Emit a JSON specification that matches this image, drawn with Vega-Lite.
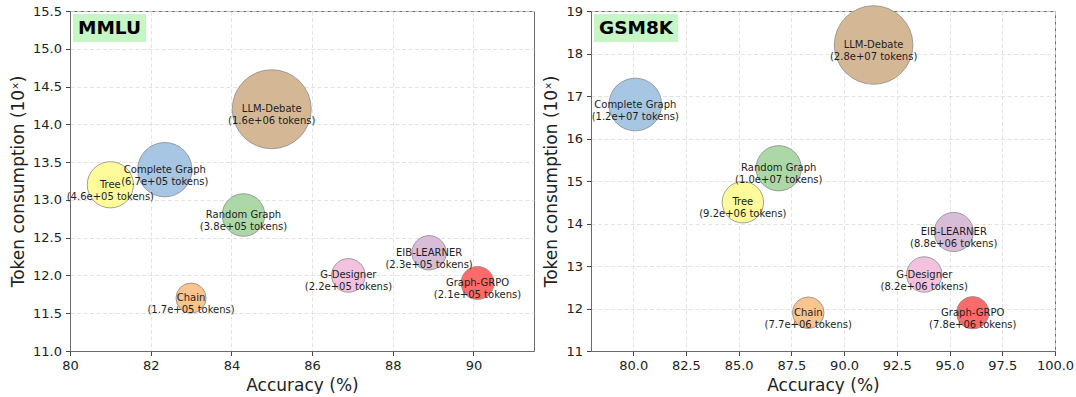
{
  "$schema": "https://vega.github.io/schema/vega-lite/v6.json",
  "padding": {"left": 9, "top": 3, "right": 5, "bottom": 0},
  "background": "white",
  "datasets": {
    "mmlu": [
      {"benchmark": "MMLU", "method": "LLM-Debate", "accuracy": 85.0, "consumption": 14.2, "tokens": 1600000, "tokens_text": "1.6e+06"},
      {"benchmark": "MMLU", "method": "Complete Graph", "accuracy": 82.35, "consumption": 13.4, "tokens": 670000, "tokens_text": "6.7e+05"},
      {"benchmark": "MMLU", "method": "Tree", "accuracy": 81.0, "consumption": 13.2, "tokens": 460000, "tokens_text": "4.6e+05"},
      {"benchmark": "MMLU", "method": "Random Graph", "accuracy": 84.3, "consumption": 12.8, "tokens": 380000, "tokens_text": "3.8e+05"},
      {"benchmark": "MMLU", "method": "EIB-LEARNER", "accuracy": 88.9, "consumption": 12.3, "tokens": 230000, "tokens_text": "2.3e+05"},
      {"benchmark": "MMLU", "method": "G-Designer", "accuracy": 86.9, "consumption": 12.0, "tokens": 220000, "tokens_text": "2.2e+05"},
      {"benchmark": "MMLU", "method": "Graph-GRPO", "accuracy": 90.1, "consumption": 11.9, "tokens": 210000, "tokens_text": "2.1e+05"},
      {"benchmark": "MMLU", "method": "Chain", "accuracy": 83.0, "consumption": 11.7, "tokens": 170000, "tokens_text": "1.7e+05"}
    ],
    "gsm8k": [
      {"benchmark": "GSM8K", "method": "LLM-Debate", "accuracy": 91.4, "consumption": 18.2, "tokens": 28000000, "tokens_text": "2.8e+07"},
      {"benchmark": "GSM8K", "method": "Complete Graph", "accuracy": 80.1, "consumption": 16.8, "tokens": 12000000, "tokens_text": "1.2e+07"},
      {"benchmark": "GSM8K", "method": "Random Graph", "accuracy": 86.9, "consumption": 15.3, "tokens": 10000000, "tokens_text": "1.0e+07"},
      {"benchmark": "GSM8K", "method": "Tree", "accuracy": 85.2, "consumption": 14.5, "tokens": 9200000, "tokens_text": "9.2e+06"},
      {"benchmark": "GSM8K", "method": "EIB-LEARNER", "accuracy": 95.2, "consumption": 13.8, "tokens": 8800000, "tokens_text": "8.8e+06"},
      {"benchmark": "GSM8K", "method": "G-Designer", "accuracy": 93.8, "consumption": 12.8, "tokens": 8200000, "tokens_text": "8.2e+06"},
      {"benchmark": "GSM8K", "method": "Graph-GRPO", "accuracy": 96.1, "consumption": 11.9, "tokens": 7800000, "tokens_text": "7.8e+06"},
      {"benchmark": "GSM8K", "method": "Chain", "accuracy": 88.3, "consumption": 11.9, "tokens": 7700000, "tokens_text": "7.7e+06"}
    ]
  },
  "config": {
    "font": "DejaVu Sans",
    "view": {"stroke": "#6b6b6b", "strokeWidth": 1},
    "axis": {
      "labelFont": "DejaVu Sans",
      "titleFont": "DejaVu Sans",
      "labelFontSize": 13,
      "titleFontSize": 17,
      "titleFontWeight": "normal",
      "labelColor": "#222222",
      "titleColor": "#222222",
      "domainColor": "#6b6b6b",
      "tickColor": "#444444",
      "tickSize": 4.5,
      "labelPadding": 4,
      "titlePadding": 5,
      "labelFlush": false,
      "labelOverlap": false,
      "grid": true,
      "gridColor": "#dcdcdc",
      "gridDash": [4, 2.5],
      "gridWidth": 0.8
    },
    "legend": {
      "orient": "top-left",
      "offset": 3,
      "fillColor": "#c6f5c6",
      "padding": 4.5,
      "labelFontSize": 18.5,
      "labelFontWeight": "bold",
      "labelFont": "DejaVu Sans",
      "labelColor": "#000000",
      "symbolSize": 0.01,
      "symbolOpacity": 0,
      "symbolStrokeWidth": 0,
      "labelOffset": -18,
      "title": null
    }
  },
  "hconcat": [
    {
      "width": 464,
      "height": 340,
      "data": {"name": "mmlu"},
      "transform": [{"calculate": "datum.method + '\\n(' + datum.tokens_text + ' tokens)'", "as": "label"}],
      "encoding": {
        "x": {"field": "accuracy", "type": "quantitative", "title": "Accuracy (%)",
              "scale": {"domain": [80, 91.5], "nice": false, "zero": false},
              "axis": {"values": [80, 82, 84, 86, 88, 90], "format": "d"}},
        "y": {"field": "consumption", "type": "quantitative", "title": "Token consumption (10ˣ)",
              "scale": {"domain": [11, 15.5], "nice": false, "zero": false},
              "axis": {"values": [11, 11.5, 12, 12.5, 13, 13.5, 14, 14.5, 15, 15.5], "format": ".1f"}}
      },
      "layer": [
        {
          "mark": {"type": "point", "filled": true, "opacity": 1, "fillOpacity": 1, "stroke": "#8a8a8a", "strokeWidth": 0.8, "strokeOpacity": 1},
          "encoding": {
            "color": {"field": "method", "type": "nominal", "legend": null,
                      "scale": {"domain": ["LLM-Debate", "Complete Graph", "Tree", "Random Graph", "Chain", "G-Designer", "EIB-LEARNER", "Graph-GRPO"],
                                "range": ["#d4b895", "#a7c6e3", "#fefb9a", "#acd8a7", "#fcc48f", "#f2c2df", "#d9bcd8", "#ff6a6a"]}},
            "size": {"field": "tokens", "type": "quantitative", "legend": null,
                     "scale": {"type": "pow", "exponent": 0.86, "domain": [0, 1600000], "range": [0, 6241], "zero": true}},
            "shape": {"field": "benchmark", "type": "nominal", "scale": {"range": ["circle"]}, "legend": {"title": null}}
          }
        },
        {
          "mark": {"type": "text", "fontSize": 10, "font": "DejaVu Sans", "color": "#1e1e1e", "lineBreak": "\n", "lineHeight": 12, "align": "center", "baseline": "middle"},
          "encoding": {"text": {"field": "label", "type": "nominal"}}
        }
      ],
      "resolve": {"scale": {"shape": "independent"}}
    },
    {
      "width": 464,
      "height": 340,
      "data": {"name": "gsm8k"},
      "transform": [{"calculate": "datum.method + '\\n(' + datum.tokens_text + ' tokens)'", "as": "label"}],
      "encoding": {
        "x": {"field": "accuracy", "type": "quantitative", "title": "Accuracy (%)",
              "scale": {"domain": [78, 100], "nice": false, "zero": false},
              "axis": {"values": [80, 82.5, 85, 87.5, 90, 92.5, 95, 97.5, 100], "format": ".1f"}},
        "y": {"field": "consumption", "type": "quantitative", "title": "Token consumption (10ˣ)",
              "scale": {"domain": [11, 19], "nice": false, "zero": false},
              "axis": {"values": [11, 12, 13, 14, 15, 16, 17, 18, 19], "format": "d"}}
      },
      "layer": [
        {
          "mark": {"type": "point", "filled": true, "opacity": 1, "fillOpacity": 1, "stroke": "#8a8a8a", "strokeWidth": 0.8, "strokeOpacity": 1},
          "encoding": {
            "color": {"field": "method", "type": "nominal", "legend": null,
                      "scale": {"domain": ["LLM-Debate", "Complete Graph", "Tree", "Random Graph", "Chain", "G-Designer", "EIB-LEARNER", "Graph-GRPO"],
                                "range": ["#d4b895", "#a7c6e3", "#fefb9a", "#acd8a7", "#fcc48f", "#f2c2df", "#d9bcd8", "#ff6a6a"]}},
            "size": {"field": "tokens", "type": "quantitative", "legend": null,
                     "scale": {"type": "log", "domain": [7700000, 28000000], "range": [1000, 6178]}},
            "shape": {"field": "benchmark", "type": "nominal", "scale": {"range": ["circle"]}, "legend": {"title": null}}
          }
        },
        {
          "mark": {"type": "text", "fontSize": 10, "font": "DejaVu Sans", "color": "#1e1e1e", "lineBreak": "\n", "lineHeight": 12, "align": "center", "baseline": "middle"},
          "encoding": {"text": {"field": "label", "type": "nominal"}}
        }
      ],
      "resolve": {"scale": {"shape": "independent"}}
    }
  ],
  "spacing": 57,
  "bounds": "flush",
  "resolve": {"scale": {"color": "independent", "size": "independent", "shape": "independent", "x": "independent", "y": "independent"}, "legend": {"shape": "independent"}}
}
